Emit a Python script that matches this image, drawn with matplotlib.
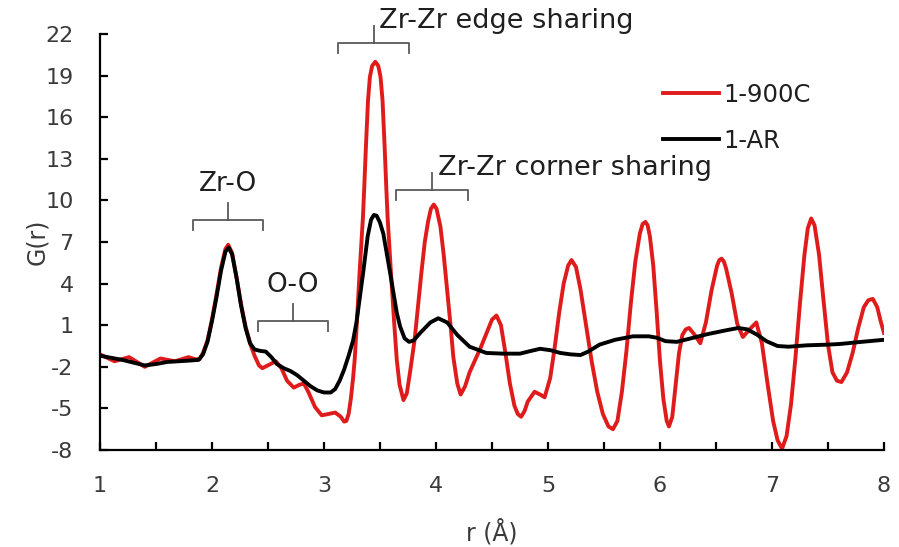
import numpy as np
import matplotlib
matplotlib.use('Agg')
import matplotlib.pyplot as plt

# red curve, 1-900C
r_900 = [1.00, 1.065, 1.13, 1.195, 1.26, 1.33, 1.40, 1.47, 1.54, 1.605, 1.67, 1.73, 1.79, 1.85, 1.89,
         1.92, 1.96, 2.00, 2.04, 2.08, 2.12, 2.145, 2.18, 2.22, 2.26, 2.30, 2.34, 2.38, 2.42, 2.45,
         2.51, 2.57, 2.62, 2.67, 2.73, 2.78, 2.82, 2.86, 2.92, 2.98, 3.04, 3.10, 3.15, 3.18, 3.20,
         3.22, 3.24, 3.26, 3.275, 3.295, 3.318, 3.335, 3.348, 3.36, 3.373, 3.393, 3.41, 3.43,
         3.458, 3.485, 3.505, 3.523, 3.543, 3.556, 3.568, 3.583, 3.598, 3.625, 3.65, 3.675, 3.71, 3.74,
         3.77, 3.81, 3.84, 3.87, 3.90, 3.93, 3.955, 3.98, 4.005, 4.04, 4.07, 4.10, 4.13, 4.155, 4.19, 4.22,
         4.26, 4.30, 4.35, 4.40, 4.45, 4.50, 4.54, 4.58, 4.62, 4.66, 4.70, 4.73, 4.76, 4.79, 4.82, 4.88, 4.93,
         4.97, 5.02, 5.06, 5.10, 5.14, 5.18, 5.21, 5.25, 5.29, 5.34, 5.39, 5.44, 5.49, 5.54, 5.58,
         5.62, 5.66, 5.70, 5.74, 5.78, 5.82, 5.845, 5.87, 5.89, 5.91, 5.94, 5.97, 6.00, 6.03, 6.06, 6.08, 6.11,
         6.14, 6.17, 6.20, 6.23, 6.26, 6.31, 6.36, 6.41, 6.46, 6.51, 6.53, 6.55, 6.57, 6.59, 6.64, 6.69, 6.74,
         6.80, 6.86, 6.91, 6.96, 7.01, 7.05, 7.09, 7.13, 7.17, 7.21, 7.25, 7.29, 7.32, 7.35, 7.38,
         7.42, 7.46, 7.50, 7.54, 7.58, 7.62, 7.67, 7.72, 7.77, 7.82, 7.86, 7.90, 7.94, 7.97, 8.00]
g_900 = [-1.10, -1.35, -1.60, -1.45, -1.30, -1.65, -2.00, -1.70, -1.40, -1.50, -1.60, -1.45, -1.30, -1.45, -1.45,
         -1.0, -0.1, 1.4, 3.2, 5.1, 6.5, 6.8, 6.2, 4.4, 2.5, 0.9, -0.3, -1.2, -1.9, -2.1,
         -1.85, -1.6, -2.1, -3.0, -3.5, -3.3, -3.2, -3.8, -4.9, -5.5, -5.4, -5.3, -5.6, -5.95, -5.9,
         -5.4, -4.3, -2.8, -1.4, 1.4, 4.8, 7.0, 8.8, 11.0, 13.6, 17.2, 18.9, 19.7,
         20.0, 19.7, 18.9, 17.2, 13.6, 11.0, 8.8, 6.8, 4.8, 1.4, -1.5, -3.3, -4.4, -3.9,
         -2.3, 0.0, 2.4, 4.8, 7.0, 8.5, 9.4, 9.7, 9.4, 8.1, 6.0, 3.5, 1.0, -1.3, -3.2, -4.0,
         -3.4, -2.4, -1.5, -0.6, 0.4, 1.4, 1.7, 1.0, -1.0, -3.2, -4.8, -5.4, -5.6, -5.2, -4.5, -3.8, -4.0,
         -4.2, -2.8, -0.6, 1.9, 4.0, 5.3, 5.7, 5.2, 3.6, 1.0, -1.6, -3.8, -5.4, -6.3, -6.5,
         -5.9, -3.8, -0.9, 2.6, 5.6, 7.6, 8.3, 8.45, 8.2, 7.4, 5.3, 2.0, -1.6, -4.3, -5.9, -6.3, -5.6,
         -3.3, -1.0, 0.3, 0.7, 0.8, 0.3, -0.3, 1.2, 3.5, 5.3, 5.7, 5.8, 5.6, 5.1, 3.3, 1.1, 0.15,
         0.7, 1.2, -0.3, -3.2, -5.9, -7.3, -7.9, -7.0, -4.7, -1.3, 2.6, 6.1, 8.0, 8.7, 8.2,
         6.1, 2.8, -0.4, -2.4, -3.0, -3.1, -2.4, -1.0, 0.8, 2.3, 2.8, 2.9, 2.3, 1.3, 0.45]

# black curve, 1-AR
r_ar = [1.00, 1.10, 1.20, 1.30, 1.40, 1.50, 1.60, 1.70, 1.80, 1.88, 1.92, 1.96, 2.00, 2.04, 2.08,
        2.12, 2.15, 2.18, 2.22, 2.26, 2.30, 2.34, 2.38, 2.43, 2.48, 2.53, 2.58, 2.64, 2.70, 2.76,
        2.82, 2.88, 2.94, 3.00, 3.06, 3.10, 3.14, 3.18, 3.22, 3.26, 3.29, 3.35, 3.39, 3.42, 3.445, 3.47,
        3.50, 3.53, 3.59, 3.65, 3.68, 3.72, 3.76, 3.80, 3.86, 3.95, 4.02, 4.10, 4.19, 4.30, 4.45, 4.60, 4.75, 4.85,
        4.93, 5.02, 5.11, 5.20, 5.29, 5.36, 5.46, 5.60, 5.76, 5.90, 5.97, 6.05, 6.15, 6.25, 6.42,
        6.60, 6.70, 6.78, 6.87, 6.95, 7.05, 7.15, 7.31, 7.50, 7.61, 7.80, 8.00]
g_ar = [-1.2, -1.35, -1.5, -1.7, -1.9, -1.8, -1.65, -1.6, -1.55, -1.5, -1.1, -0.2, 1.3, 3.0, 4.9,
        6.3, 6.6, 6.1, 4.4, 2.4, 0.8, -0.3, -0.75, -0.85, -0.9, -1.3, -1.8, -2.1, -2.3, -2.6,
        -3.0, -3.4, -3.7, -3.85, -3.85, -3.6, -3.0, -2.2, -1.2, -0.1, 1.2, 4.8, 7.4, 8.6, 8.95, 8.9,
        8.4, 7.6, 4.8, 1.9, 0.9, 0.05, -0.2, -0.1, 0.45, 1.2, 1.5, 1.2, 0.3, -0.55, -1.0, -1.05, -1.05, -0.85,
        -0.7, -0.8, -1.0, -1.1, -1.15, -0.9, -0.4, -0.05, 0.2, 0.2, 0.1, -0.15, -0.2, 0.0, 0.35,
        0.65, 0.8, 0.7, 0.3, -0.15, -0.5, -0.55, -0.45, -0.4, -0.35, -0.2, -0.05]

series_labels = ['1-900C', '1-AR']
y_ticks = [-8, -5, -2, 1, 4, 7, 10, 13, 16, 19, 22]
x_ticks = [1, 2, 3, 4, 5, 6, 7, 8]

# brackets: label, x left, x right, y of bar
brackets = [('Zr-O', 1.83, 2.46, 8.6),
            ('O-O', 2.41, 3.04, 1.3),
            ('Zr-Zr edge sharing', 3.125, 3.76, 21.35),
            ('Zr-Zr corner sharing', 3.64, 4.29, 10.75)]

plt.rcParams['font.family'] = ['DejaVu Sans']
plt.rcParams['axes.unicode_minus'] = False
red = '#e01b1b'
txt = '#1f1f1f'
lab = '#3a3a3a'

fig = plt.figure(figsize=(8.99, 5.47), dpi=100)
ax = fig.add_axes([0.1112, 0.1773, 0.8721, 0.7605])

ax.plot(r_900, g_900, color=red, lw=2.8, label=series_labels[0], solid_joinstyle='round')
ax.plot(r_ar, g_ar, color='black', lw=2.8, label=series_labels[1], solid_joinstyle='round')

ax.set_xlim(1, 8)
ax.set_ylim(-8, 22)
ax.set_yticks(y_ticks)
ax.set_xticks(x_ticks)
ax.set_xticks(np.arange(1.5, 8, 1.0), minor=True)
for s in ['top', 'right']:
    ax.spines[s].set_visible(False)
for s in ['left', 'bottom']:
    ax.spines[s].set_linewidth(1.6)
ax.tick_params(which='both', direction='in', length=6, width=1.6, labelsize=16,
               labelcolor=lab, pad=19)
ax.set_xlabel('r (Å)', fontsize=17, color=lab, labelpad=16)
ax.set_ylabel('G(r)', fontsize=17, color=lab, labelpad=-3)

# brackets with labels
gray = '#595959'
for name, x1, x2, yb in brackets:
    xm = (x1 + x2) / 2
    drop = 0.75
    rise = 1.2
    ax.plot([x1, x1, x2, x2], [yb - drop, yb, yb, yb - drop], color=gray, lw=1.3, clip_on=False)
    ax.plot([xm, xm], [yb, yb + rise], color=gray, lw=1.3, clip_on=False)
    if name in ('Zr-O', 'O-O'):
        ax.text(xm, yb + 2.6, name, fontsize=19, color=txt, ha='center', va='center')
    else:
        ax.text(xm + 0.05, yb + 1.6, name, fontsize=19.5, color=txt, ha='left', va='center')

ax.legend(loc='upper left', bbox_to_anchor=(0.69, 0.935), frameon=False, fontsize=17.5,
          handlelength=2.3, handletextpad=0.2, labelspacing=0.9, labelcolor=txt)

fig.savefig('out.png', dpi=100)
